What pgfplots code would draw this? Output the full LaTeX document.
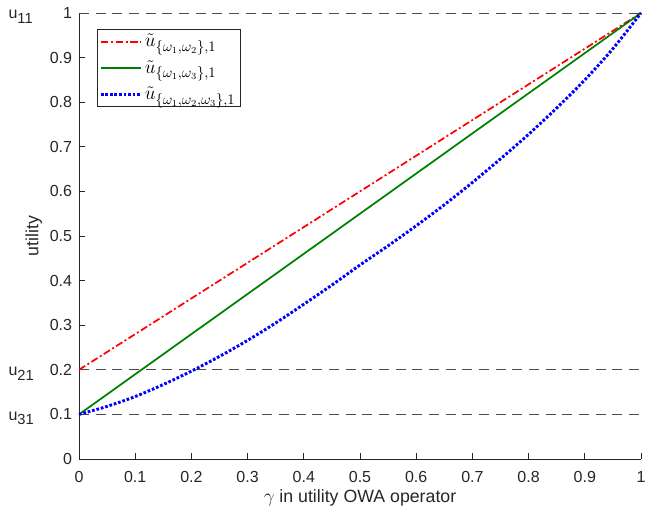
\documentclass[border=0pt]{standalone}
\usepackage{fontspec}
\setmainfont{Liberation Sans}
\usepackage{pgfplots}
\pgfplotsset{compat=1.18}
\definecolor{axgray}{gray}{0.15}
\definecolor{dashgray}{gray}{0.3}
\definecolor{mgreen}{rgb}{0,0.5,0}
\begin{document}
\fontsize{12}{14.4}\selectfont
\begin{tikzpicture}
\begin{axis}[name=ax, scale only axis, width=421.5pt, height=334.5pt,
  xmin=0, xmax=1, ymin=0, ymax=1,
  axis x line*=bottom, axis y line*=left,
  axis line style={axgray, line width=0.6pt, -},
  xtick={0,0.1,0.2,0.3,0.4,0.5,0.6,0.7,0.8,0.9,1},
  ytick={0,0.1,0.2,0.3,0.4,0.5,0.6,0.7,0.8,0.9,1},
  tick align=inside, major tick length=4.5pt,
  tick style={axgray, line width=0.6pt},
  ticklabel style={font=\fontsize{12}{14.4}\selectfont, text=axgray},
  xticklabel shift=5pt,
  yticklabel shift=1pt,
  /pgf/number format/assume math mode=true,
  /pgf/number format/fixed,
  xlabel={$\gamma$ in utility OWA operator}, ylabel={utility},
  every axis x label/.style={at={(axis description cs:0.5,0)}, anchor=center, yshift=-29pt, text=axgray, font=\fontsize{13.3}{16}\selectfont},
  every axis y label/.style={at={(axis description cs:0,0.5)}, xshift=-34pt, anchor=center, rotate=90, text=axgray, font=\fontsize{13.3}{16}\selectfont},
  clip=false,
  legend cell align=left,
  legend style={at={(0.032,0.964)}, anchor=north west, draw=axgray, line width=0.6pt, font=\fontsize{15}{18}\selectfont, row sep=4.5pt, inner sep=1.5pt},
  legend image code/.code={\draw[#1] (0cm,0cm) -- (1.05cm,0cm);},
]
\addplot[dashgray, line width=0.7pt, dash pattern=on 7.5pt off 5pt, forget plot] coordinates {(0,1) (1,1)};
\addplot[dashgray, line width=0.7pt, dash pattern=on 7.5pt off 5pt, forget plot] coordinates {(0,0.2) (1,0.2)};
\addplot[dashgray, line width=0.7pt, dash pattern=on 7.5pt off 5pt, forget plot] coordinates {(0,0.1) (1,0.1)};
\addplot[red, line width=1.3pt, dash pattern=on 5.5pt off 2pt on 1.5pt off 2pt] coordinates {(0,0.2) (1,1)};
\addlegendentry{$\tilde{u}_{\{\omega_1,\omega_2\},1}$}
\addplot[mgreen, line width=1.3pt] coordinates {(0,0.1) (1,1)};
\addlegendentry{$\tilde{u}_{\{\omega_1,\omega_3\},1}$}
\addplot[blue, line width=2.2pt, dash pattern=on 2pt off 1.4pt, smooth] coordinates {
(0,0.1) (0.05,0.118) (0.1,0.14) (0.15,0.167) (0.2,0.197) (0.25,0.23) (0.3,0.266) (0.35,0.305) (0.4,0.347) (0.45,0.39) (0.5,0.435) (0.55,0.478) (0.6,0.523) (0.65,0.57) (0.7,0.62) (0.75,0.673) (0.8,0.728) (0.85,0.787) (0.9,0.85) (0.95,0.92) (1,1)};
\addlegendentry{$\tilde{u}_{\{\omega_1,\omega_2,\omega_3\},1}$}
\node[anchor=base west, text=axgray, inner sep=0pt] at ([xshift=-53pt, yshift=-4.3pt]axis cs:0,1) {u\raisebox{-0.55ex}{\fontsize{11}{12}\selectfont 11}};
\node[anchor=base west, text=axgray, inner sep=0pt] at ([xshift=-53pt, yshift=-4.3pt]axis cs:0,0.2) {u\raisebox{-0.55ex}{\fontsize{11}{12}\selectfont 21}};
\node[anchor=base west, text=axgray, inner sep=0pt] at ([xshift=-53pt, yshift=-4.3pt]axis cs:0,0.1) {u\raisebox{-0.55ex}{\fontsize{11}{12}\selectfont 31}};
\end{axis}
\pgfresetboundingbox
\path[use as bounding box] ([xshift=-59.25pt,yshift=-46.5pt]ax.south west) rectangle ([xshift=3.75pt,yshift=9.75pt]ax.north east);
\end{tikzpicture}
\end{document}
